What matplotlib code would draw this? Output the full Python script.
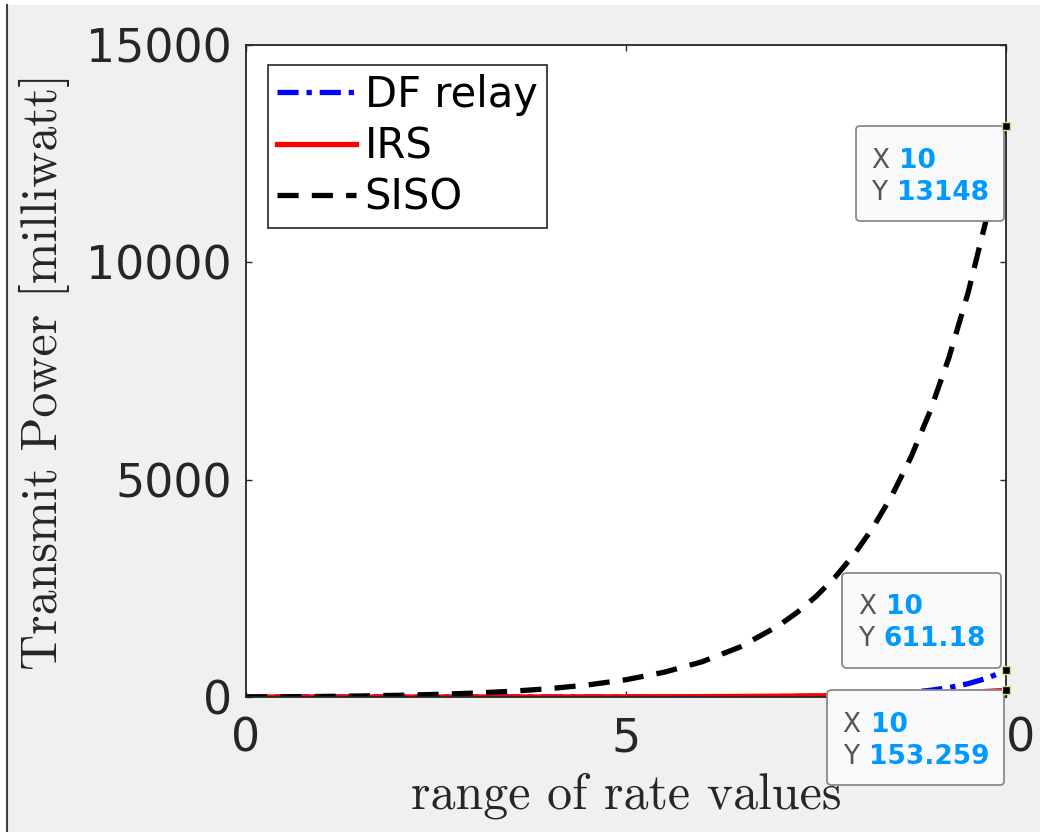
import matplotlib
matplotlib.use("Agg")
import matplotlib.pyplot as plt
from matplotlib.offsetbox import AnnotationBbox, TextArea, HPacker, VPacker, DrawingArea

# data
rate = [0, 0.5, 1, 1.5, 2, 2.5, 3, 3.5, 4, 4.5, 5, 5.5, 6, 6.5, 7,
        7.25, 7.5, 7.75, 8, 8.25, 8.5, 8.75, 9, 9.25, 9.5, 9.75, 10]
df_relay = [0, 0.0006, 0.0017, 0.0041, 0.0087, 0.018, 0.037, 0.074, 0.149, 0.30, 0.60, 1.19, 2.39, 4.77, 9.55,
            13.5, 19.1, 27.0, 38.2, 54.0, 76.4, 108.0, 152.8, 216.1, 305.6, 432.2, 611.18]
irs = [0, 0.06, 0.15, 0.27, 0.45, 0.70, 1.05, 1.54, 2.25, 3.24, 4.64, 6.63, 9.44, 13.4, 19.0,
       22.6, 27.0, 32.1, 38.2, 45.4, 54.1, 64.3, 76.5, 91.1, 108.3, 128.8, 153.259]
siso = [0, 5.3, 12.9, 23.5, 38.6, 59.8, 90.0, 132.5, 192.8, 278, 398, 569, 810, 1150, 1632,
        1943, 2313, 2754, 3277, 3899, 4640, 5520, 6567, 7813, 9293, 11054, 13148]

xticks = [0, 5, 10]
yticks = [0, 5000, 10000, 15000]

# data tips: (series, label for y, box alignment, offset in points)
tips = [
    (siso, "13148", (1, 1), (-12.2, -11.5)),
    (df_relay, "611.18", (1, 0), (-14.4, 13.0)),
    (irs, "153.259", (1, 1), (-12.2, -10.8)),
]

axcol = "#262626"
bg = "#f0f0f0"

fig = plt.figure(figsize=(10.4, 8.32), dpi=100, facecolor=bg)
ax = fig.add_axes([246 / 1040, 1 - 697 / 832, 760 / 1040, 652 / 832])
ax.set_facecolor("white")

ax.plot(rate, df_relay, color="blue", lw=3.8, linestyle=(0, (4, 1.5, 1, 1.5)), label="DF relay")
ax.plot(rate, irs, color="red", lw=3.8, label="IRS")
ax.plot(rate, siso, color="black", lw=3.8, linestyle=(0, (4, 2.5)), label="SISO")

ax.set_xlim(0, 10)
ax.set_ylim(0, 15000)
ax.set_xticks(xticks)
ax.set_yticks(yticks)
ax.tick_params(direction="in", length=4.3, width=1, colors=axcol, labelsize=33,
               top=True, right=True, pad=10)
ax.tick_params(axis="x", pad=14)
for s in ax.spines.values():
    s.set_color(axcol)
    s.set_linewidth(1.3)

ax.set_xlabel("range of rate values", fontfamily="cmr10", fontsize=36, color=axcol, labelpad=8)
ax.set_ylabel("Transmit Power [milliwatt]", fontfamily="cmr10", fontsize=36, color=axcol, labelpad=12)

leg = ax.legend(loc="upper left", bbox_to_anchor=(0.029, 0.97), borderaxespad=0,
                fontsize=30, fancybox=False, framealpha=1, edgecolor=axcol,
                handlelength=1.9, handletextpad=0.2, borderpad=0.22, labelspacing=0.23)
leg.get_frame().set_linewidth(1.2)

# datatips
for series, ylab, align, off in tips:
    xv, yv = rate[-1], series[-1]
    ax.plot([xv], [yv], marker="s", ms=6, mfc="black", mec="#d8d890", mew=1,
            clip_on=False, zorder=12)
    tp_gray = dict(color="#555555", fontsize=19)
    tp_blue = dict(color="#0099ff", fontsize=19, fontweight="bold")
    row1 = HPacker(children=[TextArea("X", textprops=tp_gray),
                             TextArea(f"{xv:g}", textprops=tp_blue)], pad=0, sep=7)
    row2 = HPacker(children=[TextArea("Y", textprops=tp_gray),
                             TextArea(ylab, textprops=tp_blue)], pad=0, sep=7)
    box = VPacker(children=[DrawingArea(1, 0), row1, row2], pad=0, sep=4.5, align="left")
    ab = AnnotationBbox(box, (xv, yv), xybox=off, xycoords="data", boxcoords="offset points",
                        box_alignment=align, frameon=True, pad=0,
                        bboxprops=dict(boxstyle="round,pad=1.1,rounding_size=0.3",
                                       fc="#fafafd", ec="#8a8a8a", lw=1.3))
    ab.set_clip_on(False)
    ab.set_zorder(11)
    ax.add_artist(ab)

# thin window edge seen in the screenshot
fig.add_artist(plt.Line2D([7 / 1040, 7 / 1040], [0, 1 - 5 / 832], color="#404040", lw=1.5))
fig.add_artist(plt.Rectangle((0, 1 - 5 / 832), 1, 5 / 832, color="white", lw=0))
fig.add_artist(plt.Rectangle((0, 0), 6 / 1040, 1, color="white", lw=0))

fig.savefig("out.png", dpi=100, facecolor=bg)
